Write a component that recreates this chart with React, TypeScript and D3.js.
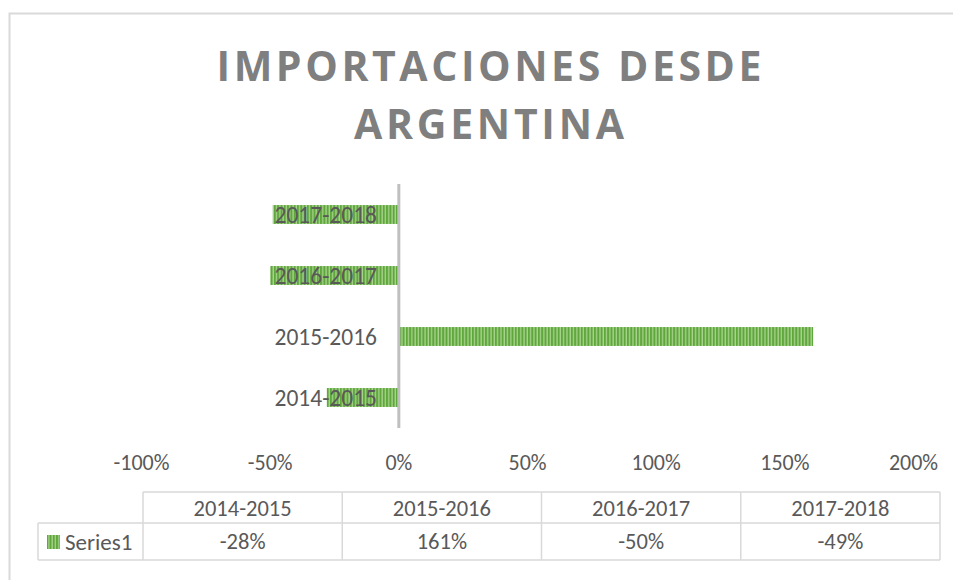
import React from "react";
import * as d3 from "d3";

const categories = ["2014-2015", "2015-2016", "2016-2017", "2017-2018"];
const values = [-0.28, 1.61, -0.5, -0.49];
const valueLabels = ["-28%", "161%", "-50%", "-49%"];
const ticks = [-1, -0.5, 0, 0.5, 1, 1.5, 2];
const seriesName = "Series1";
const titleLines = ["IMPORTACIONES DESDE", "ARGENTINA"];
const titleWidths = [545, 270];

const FONT = "Carlito, Calibri, Lato, sans-serif";
const TITLE_FONT = "'Open Sans', sans-serif";
const TEXT = "#595959";
const GRID = "#d9d9d9";

export default function App() {
  const W = 953;
  const H = 580;
  const x = d3.scaleLinear().domain([-1, 2]).range([141.5, 913.5]);
  const y = d3
    .scaleBand<string>()
    .domain([...categories].reverse())
    .range([184, 428])
    .paddingInner(0.69)
    .paddingOuter(0.345);
  const pct = d3.format(".0%");
  const fmt = (v: number) => pct(v).replace("\u2212", "-");

  const tableLeft = 143;
  const tableRight = 940;
  const colW = (tableRight - tableLeft) / categories.length;
  const rowTop = 492;
  const rowMid = 523;
  const rowBot = 560;
  const legendLeft = 38;

  return (
    <svg
      width={W}
      height={H}
      style={{ position: "absolute", left: 0, top: 0, background: "#fff" }}
      fontFamily={FONT}
    >
      <defs>
        <pattern id="vstripe" patternUnits="userSpaceOnUse" width="3.3" height="4">
          <rect x="0" y="0" width="3.3" height="4" fill="#a9d48e" />
          <rect x="0" y="0" width="2" height="4" fill="#5fa63d" />
        </pattern>
      </defs>
      <rect x={0} y={0} width={W} height={H} fill="#fff" />
      {/* chart border */}
      <path d={`M9.5,${H + 5} V13.5 H${W + 5}`} fill="none" stroke={GRID} strokeWidth={2} />

      {/* title */}
      {titleLines.map((t, i) => (
        <text
          key={t}
          x={489 - titleWidths[i] / 2}
          y={81 + i * 58}
          fontFamily={TITLE_FONT}
          fontSize={41}
          fontWeight="bold"
          fill="#7f7f7f"
          textLength={titleWidths[i]}
          lengthAdjust="spacing"
        >
          {t}
        </text>
      ))}

      {/* bars */}
      {categories.map((c, i) => {
        const v = values[i];
        const x0 = x(Math.min(0, v));
        const x1 = x(Math.max(0, v));
        return (
          <rect
            key={c}
            x={x0}
            y={y(c)}
            width={x1 - x0}
            height={y.bandwidth()}
            fill="url(#vstripe)"
          />
        );
      })}

      {/* category labels */}
      {categories.map((c) => (
        <text
          key={c}
          x={377}
          y={(y(c) as number) + y.bandwidth() / 2}
          textAnchor="end"
          dominantBaseline="central"
          fontSize={23.5}
          fill={TEXT}
        >
          {c}
        </text>
      ))}

      {/* vertical axis line */}
      <line x1={x(0)} x2={x(0)} y1={184} y2={428} stroke="#bfbfbf" strokeWidth={3} />

      {/* x tick labels */}
      {ticks.map((t) => (
        <text
          key={t}
          x={x(t)}
          y={462}
          textAnchor="middle"
          dominantBaseline="central"
          fontSize={22}
          fill={TEXT}
        >
          {fmt(t)}
        </text>
      ))}

      {/* data table */}
      <g stroke={GRID} strokeWidth={1.5} fill="none">
        <line x1={tableLeft} x2={tableRight} y1={rowTop} y2={rowTop} />
        <line x1={legendLeft} x2={tableRight} y1={rowMid} y2={rowMid} />
        <line x1={legendLeft} x2={tableRight} y1={rowBot} y2={rowBot} />
        <line x1={legendLeft} x2={legendLeft} y1={rowMid} y2={rowBot} />
        {d3.range(categories.length + 1).map((k) => (
          <line
            key={k}
            x1={tableLeft + k * colW}
            x2={tableLeft + k * colW}
            y1={rowTop}
            y2={rowBot}
          />
        ))}
      </g>
      {categories.map((c, i) => (
        <g key={c}>
          <text
            x={tableLeft + (i + 0.5) * colW}
            y={(rowTop + rowMid) / 2 + 1}
            textAnchor="middle"
            dominantBaseline="central"
            fontSize={22.5}
            fill={TEXT}
          >
            {c}
          </text>
          <text
            x={tableLeft + (i + 0.5) * colW}
            y={(rowMid + rowBot) / 2}
            textAnchor="middle"
            dominantBaseline="central"
            fontSize={22.5}
            fill={TEXT}
          >
            {valueLabels[i]}
          </text>
        </g>
      ))}
      <rect x={47} y={535} width={13} height={14} fill="url(#vstripe)" />
      <text
        x={65}
        y={(rowMid + rowBot) / 2}
        dominantBaseline="central"
        fontSize={23}
        fill={TEXT}
      >
        {seriesName}
      </text>
    </svg>
  );
}
